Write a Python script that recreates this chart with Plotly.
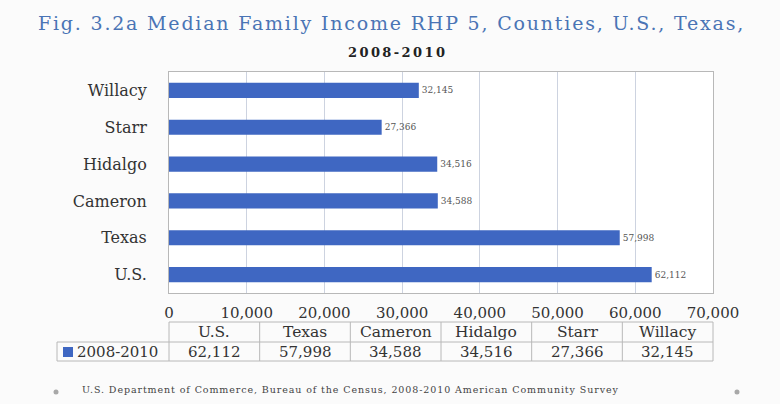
import plotly.graph_objects as go

# Median family income, 2008-2010
categories = ["U.S.", "Texas", "Cameron", "Hidalgo", "Starr", "Willacy"]
income = [62112, 57998, 34588, 34516, 27366, 32145]
series_name = "2008-2010"
x_ticks = [0, 10000, 20000, 30000, 40000, 50000, 60000, 70000]

title_text = "Fig. 3.2a Median Family Income RHP 5, Counties, U.S., Texas,"
subtitle_text = "2008-2010"
source_text = ("U.S. Department of Commerce, Bureau of the Census, "
               "2008-2010 American Community Survey")

W, H = 780, 404
ML, MR, MT, MB = 169, 67, 72, 111
PW, PH = W - ML - MR, H - MT - MB

BAR = "#3f67c2"
SERIF = "DejaVu Serif, serif"
TEXT = "#333333"
GRID = "#cdd3e0"
TABLE_LINE = "#b8b8b8"


def px_x(x):
    """Pixel column -> paper x."""
    return (x - ML) / PW


def px_y(y):
    """Pixel row (from top) -> paper y."""
    return (H - MB - y) / PH


def spaced(text, px):
    return f'<span style="letter-spacing:{px}px">{text}</span>'


def note(x, y, text, size, color=TEXT, xanchor="center"):
    return dict(x=px_x(x), y=px_y(y), xref="paper", yref="paper",
                text=text, showarrow=False, xanchor=xanchor, yanchor="middle",
                font=dict(family=SERIF, size=size, color=color))


fig = go.Figure()
fig.add_trace(go.Bar(
    y=categories,
    x=income,
    orientation="h",
    marker=dict(color=BAR, line=dict(width=0)),
    text=[f"{v:,}" for v in income],
    textposition="outside",
    textfont=dict(family=SERIF, size=9, color="#555555"),
    cliponaxis=False,
    name=series_name,
    width=0.41,
))

shapes = []
annotations = []

# Data table under the axis: header row with categories, one row of values
n = len(categories)
col_w = 1.0 / n
ht, hb, rb = 322, 342, 361
header_top, header_bot, row_bot = px_y(ht), px_y(hb), px_y(rb)
legend_left = px_x(57)
line = dict(color=TABLE_LINE, width=1)

shapes.append(dict(type="line", xref="paper", yref="paper",
                   x0=0, x1=1, y0=header_top, y1=header_top, line=line))
shapes.append(dict(type="line", xref="paper", yref="paper",
                   x0=legend_left, x1=1, y0=header_bot, y1=header_bot, line=line))
shapes.append(dict(type="line", xref="paper", yref="paper",
                   x0=legend_left, x1=1, y0=row_bot, y1=row_bot, line=line))
shapes.append(dict(type="line", xref="paper", yref="paper",
                   x0=legend_left, x1=legend_left, y0=header_bot, y1=row_bot, line=line))
for i in range(n + 1):
    shapes.append(dict(type="line", xref="paper", yref="paper",
                       x0=i * col_w, x1=i * col_w, y0=header_top, y1=row_bot, line=line))

for i, (cat, val) in enumerate(zip(categories, income)):
    cx = ML + (i + 0.5) * col_w * PW
    annotations.append(note(cx, (ht + hb) / 2, cat, 15.5))
    annotations.append(note(cx, (hb + rb) / 2 + 0.5, f"{val:,}", 15))

# legend key inside the table
shapes.append(dict(type="rect", xref="paper", yref="paper",
                   x0=px_x(63), x1=px_x(73), y0=px_y(347), y1=px_y(357),
                   fillcolor=BAR, line=dict(width=0)))
annotations.append(note(75, (hb + rb) / 2 + 0.5, series_name, 15, xanchor="left"))

# titles
annotations.append(note(391, 23, spaced(title_text, 1.8), 19, color="#4a74b5"))
annotations.append(note(397, 52, spaced(f"<b>{subtitle_text}</b>", 2.4), 13, color="#222222"))

# source note and bullets
annotations.append(note(80, 389, spaced(source_text, 0.9), 9.5, color="#444444", xanchor="left"))
for bx in (56, 737):
    shapes.append(dict(type="circle", xref="paper", yref="paper",
                       x0=px_x(bx - 2.5), x1=px_x(bx + 2.5),
                       y0=px_y(392 + 2.5), y1=px_y(392 - 2.5),
                       fillcolor="#a8a8a8", line=dict(width=0)))

fig.update_layout(
    width=W, height=H,
    margin=dict(l=ML, r=MR, t=MT, b=MB),
    paper_bgcolor="#fbfbfb",
    plot_bgcolor="#ffffff",
    showlegend=False,
    shapes=shapes,
    annotations=annotations,
)
fig.update_xaxes(
    range=[0, 70000], tickvals=x_ticks, tickformat=",",
    showgrid=True, gridcolor=GRID, gridwidth=1,
    showline=True, linecolor=TABLE_LINE, mirror=True,
    zeroline=False, ticks="",
    tickfont=dict(family=SERIF, size=15, color=TEXT),
    ticklabelstandoff=6,
    fixedrange=True,
)
fig.update_yaxes(
    categoryorder="array", categoryarray=categories,
    showline=True, linecolor=TABLE_LINE, mirror=True,
    ticks="", ticklabelstandoff=18,
    tickfont=dict(family=SERIF, size=16, color=TEXT),
    fixedrange=True,
)

fig.write_html("out.html")
